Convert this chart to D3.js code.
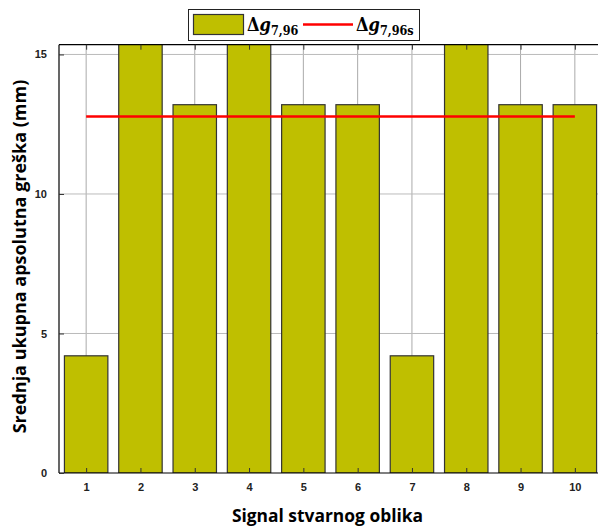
<!DOCTYPE html>
<html><head><meta charset="utf-8">
<script src="https://cdn.jsdelivr.net/npm/d3@7"></script>
<style>body{margin:0;background:#fff}</style>
</head><body>
<svg id="c" width="598" height="529"></svg>
<script>
const categories = ["1","2","3","4","5","6","7","8","9","10"];
const barValues = [4.2, 16.5, 13.2, 16.5, 13.2, 13.2, 4.2, 16.5, 13.2, 13.2];
const lineValue = 12.78;
const yTicks = [0, 5, 10, 15];

const svg = d3.select("#c");
const m = {l: 59, t: 44.7, r: 602, b: 473};
const x = d3.scaleLinear().domain([0.5, 10.5]).range([m.l, m.r]);
const y = d3.scaleLinear().domain([0, 15.35]).range([m.b, m.t]);
const step = x(2) - x(1);
const bw = step * 0.8;

const defs = svg.append("defs");
defs.append("clipPath").attr("id","clip").append("rect")
  .attr("x", m.l).attr("y", m.t).attr("width", m.r - m.l).attr("height", m.b - m.t);

// grid
const g = svg.append("g");
g.selectAll(".vg").data(categories).enter().append("line")
  .attr("x1", (d,i)=>x(i+1)).attr("x2",(d,i)=>x(i+1))
  .attr("y1", m.t).attr("y2", m.b).attr("stroke","#aaa").attr("stroke-width",1);
g.selectAll(".hg").data(yTicks.filter(d=>d>0)).enter().append("line")
  .attr("x1", m.l).attr("x2", m.r).attr("y1", d=>y(d)).attr("y2", d=>y(d))
  .attr("stroke","#bbb").attr("stroke-width",1);

// bars
svg.append("g").attr("clip-path","url(#clip)").selectAll("rect").data(barValues).enter().append("rect")
  .attr("x", (d,i)=>x(i+1)-bw/2).attr("width", bw)
  .attr("y", d=>y(d)).attr("height", d=>y(0)-y(d))
  .attr("fill","#BFBF00").attr("stroke","#333").attr("stroke-width",1.2);

// red line
svg.append("line").attr("x1", x(1)).attr("x2", x(10)).attr("y1", y(lineValue)).attr("y2", y(lineValue))
  .attr("stroke","#f00").attr("stroke-width",2.5);

// frame
svg.append("line").attr("x1",m.l).attr("x2",598).attr("y1",m.t).attr("y2",m.t).attr("stroke","#000").attr("stroke-width",1.2);
svg.append("line").attr("x1",m.l).attr("x2",598).attr("y1",m.b).attr("y2",m.b).attr("stroke","#000").attr("stroke-width",1.2);
svg.append("line").attr("x1",m.l).attr("x2",m.l).attr("y1",m.t).attr("y2",m.b).attr("stroke","#000").attr("stroke-width",1.2);

// ticks
const xa = d3.axisBottom(x).tickValues(d3.range(1,11)).tickFormat((d)=>categories[d-1]).tickSizeInner(-5).tickSizeOuter(0).tickPadding(10);
const xg = svg.append("g").attr("transform",`translate(0,${m.b})`).call(xa);
xg.select(".domain").remove();
xg.selectAll("line").attr("stroke","#333");
xg.selectAll("text").attr("font-family","Liberation Sans, Arial").attr("font-weight","bold").attr("font-size",11).attr("fill","#222");
const xt = d3.axisTop(x).tickValues(d3.range(1,11)).tickFormat("").tickSizeInner(-5).tickSizeOuter(0);
const xtg = svg.append("g").attr("transform",`translate(0,${m.t})`).call(xt);
xtg.select(".domain").remove(); xtg.selectAll("line").attr("stroke","#333");

const ya = d3.axisLeft(y).tickValues(yTicks).tickSizeInner(-5).tickSizeOuter(0).tickPadding(12);
const yg = svg.append("g").attr("transform",`translate(${m.l},0)`).call(ya);
yg.select(".domain").remove();
yg.selectAll("line").attr("stroke","#333");
yg.selectAll("text").attr("font-family","Liberation Sans, Arial").attr("font-weight","bold").attr("font-size",11).attr("fill","#222");

// axis labels
svg.append("text").attr("x", 327.5).attr("y", 522).attr("text-anchor","middle")
  .attr("font-family","Open Sans, Liberation Sans").attr("font-weight","bold").attr("font-size",17.4)
  .text("Signal stvarnog oblika");
svg.append("text").attr("transform","translate(25.5,256.5) rotate(-90)").attr("text-anchor","middle")
  .attr("font-family","Open Sans, Liberation Sans").attr("font-weight","bold").attr("font-size",18)
  .text("Srednja ukupna apsolutna greška (mm)");

// legend
const lg = svg.append("g");
lg.append("rect").attr("x",188.5).attr("y",9.5).attr("width",231).attr("height",31).attr("fill","#fff").attr("stroke","#222").attr("stroke-width",1);
lg.append("rect").attr("x",193.5).attr("y",14.5).attr("width",50).attr("height",20).attr("fill","#BFBF00").attr("stroke","#333").attr("stroke-width",1.2);
lg.append("line").attr("x1",303).attr("x2",353).attr("y1",24.5).attr("y2",24.5).attr("stroke","#f00").attr("stroke-width",2.5);
function legText(xp, sub){
  const t = lg.append("text").attr("x",xp).attr("y",31).attr("font-family","DejaVu Serif Condensed, DejaVu Serif").attr("font-stretch","condensed").attr("font-weight","bold").attr("font-size",18);
  t.append("tspan").text("Δ");
  t.append("tspan").attr("font-style","italic").text("g");
  t.append("tspan").attr("font-size",12.5).attr("dy",4).text(sub);
}
legText(247, "7,96");
legText(356, "7,96s");
</script>
</body></html>
